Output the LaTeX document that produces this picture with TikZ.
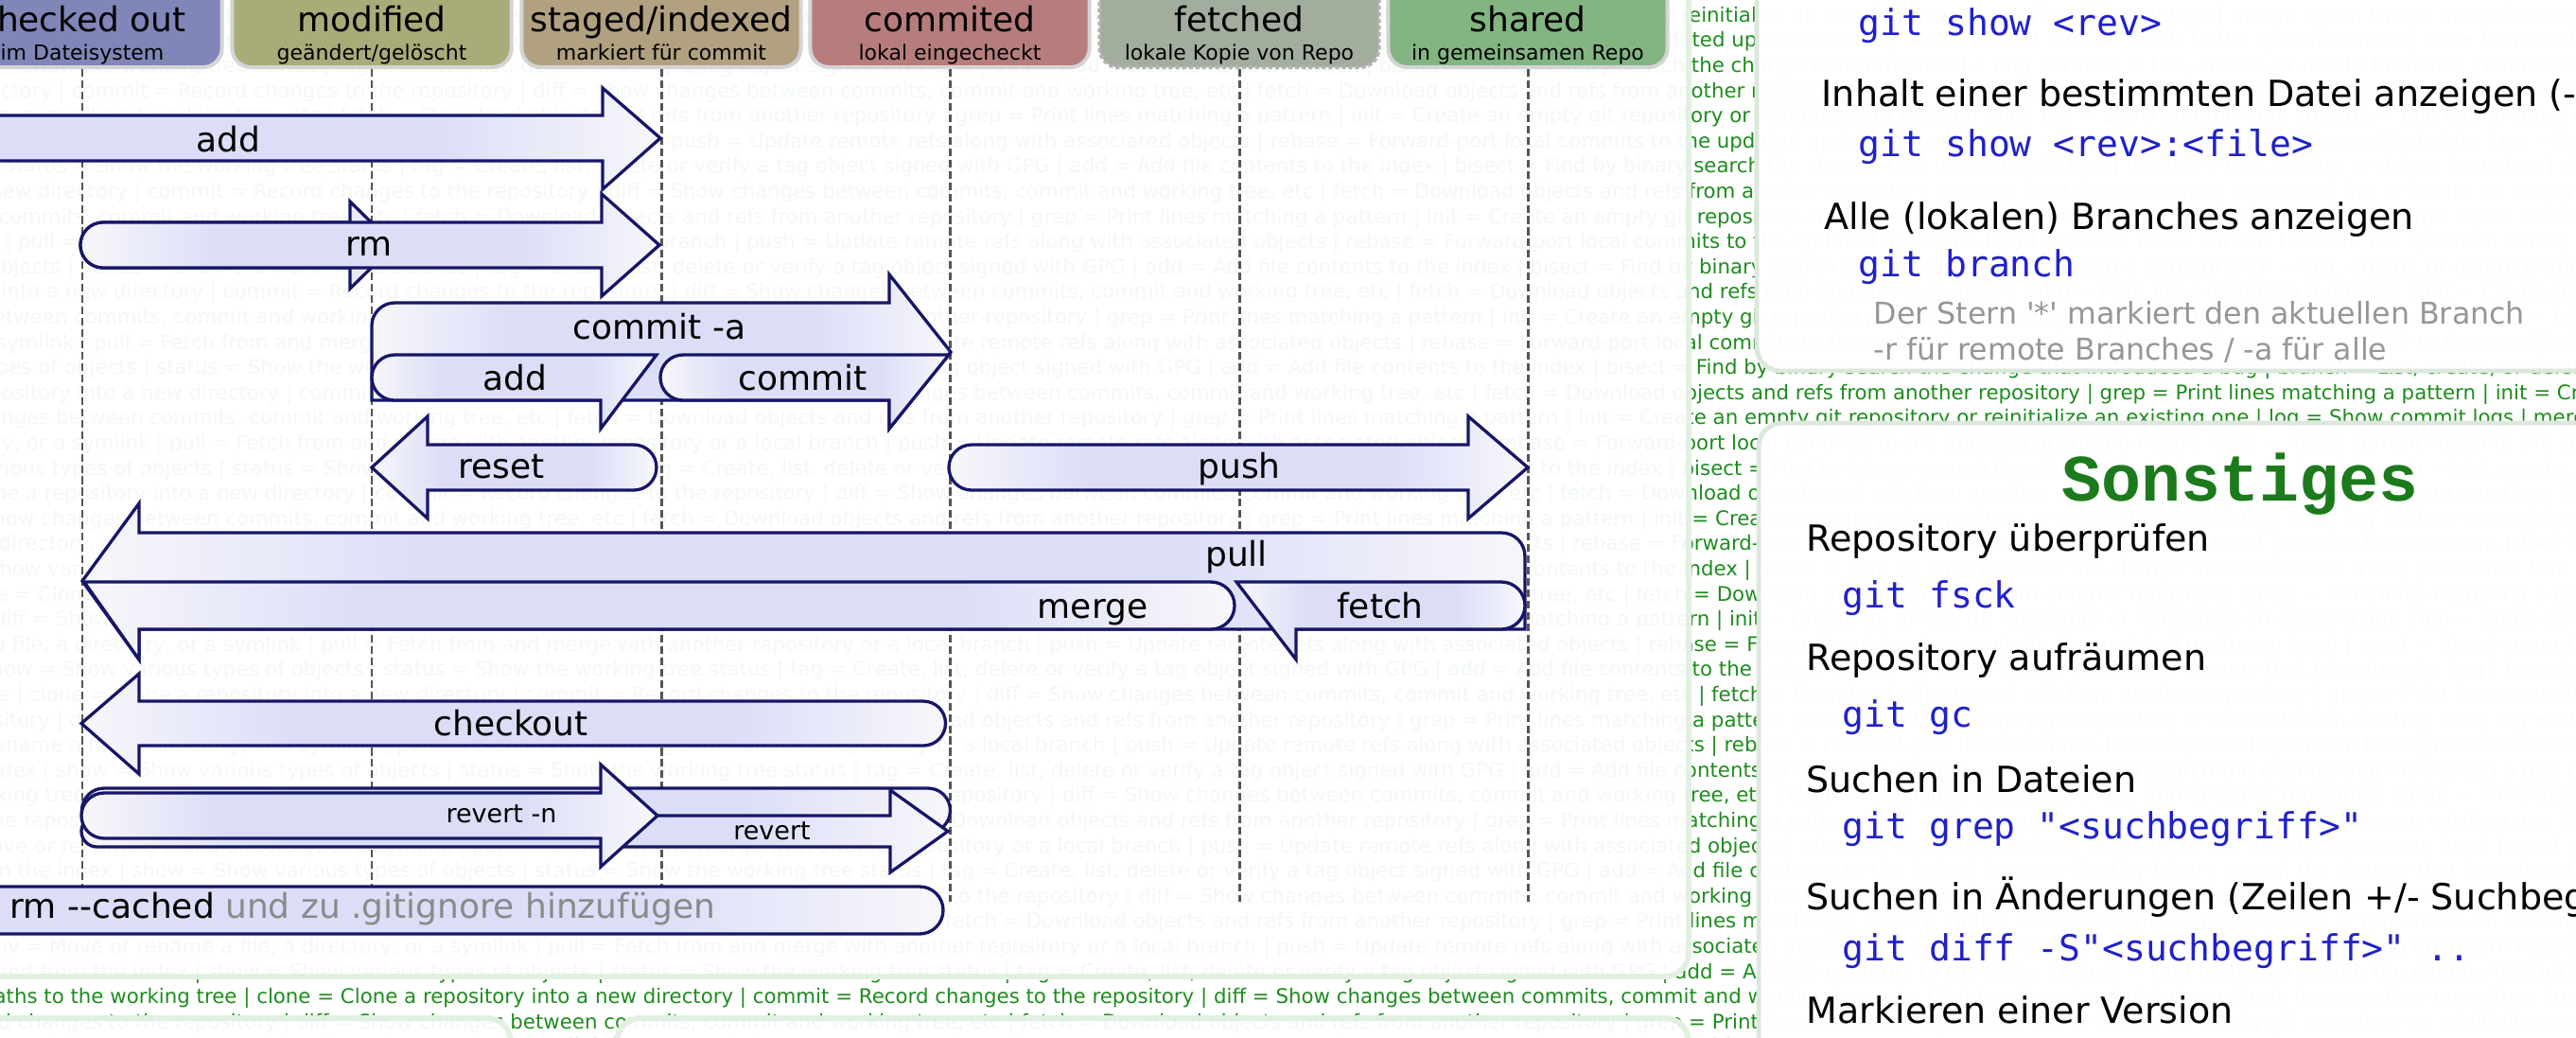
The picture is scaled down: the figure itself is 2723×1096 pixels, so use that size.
\documentclass[tikz,border=0pt]{standalone}
\usepackage{fontspec}
\newfontfamily\dv{DejaVu Sans}
\newfontfamily\dvm{DejaVu Sans Mono}
\newfontfamily\lmono{Liberation Mono}
\definecolor{navy}{RGB}{22,22,104}
\definecolor{arrL}{RGB}{220,222,248}
\definecolor{arrW}{RGB}{247,247,250}
\definecolor{bggreen}{RGB}{30,140,30}
\definecolor{codeblue}{RGB}{32,32,204}
\definecolor{sonst}{RGB}{28,122,28}
\definecolor{grayt}{RGB}{150,150,150}
\definecolor{graym}{RGB}{138,138,138}
\definecolor{ovb}{RGB}{226,240,226}
\definecolor{pnb}{RGB}{220,232,220}
\definecolor{hdrb}{RGB}{212,212,212}
\definecolor{vl}{RGB}{85,85,85}
\definecolor{cCheck}{RGB}{129,134,185}
\definecolor{cMod}{RGB}{169,172,121}
\definecolor{cStag}{RGB}{177,161,128}
\definecolor{cComm}{RGB}{183,125,125}
\definecolor{cFetch}{RGB}{162,173,158}
\definecolor{cShar}{RGB}{131,181,131}
\pgfdeclarehorizontalshading{arrsh}{100bp}{color(0bp)=(arrW); color(25bp)=(arrW); color(37bp)=(arrL); color(63bp)=(arrL); color(75bp)=(arrW); color(100bp)=(arrW)}
\newcommand\mycapL[3]{.. controls ({#1-0.5523*#3},{#2+#3}) and ({#1-#3},{#2+0.5523*#3}) .. ({#1-#3},{#2}) .. controls ({#1-#3},{#2-0.5523*#3}) and ({#1-0.5523*#3},{#2-#3}) .. ({#1},{#2-#3})}
\newcommand\mycapR[3]{.. controls ({#1+0.5523*#3},{#2-#3}) and ({#1+#3},{#2-0.5523*#3}) .. ({#1+#3},{#2}) .. controls ({#1+#3},{#2+0.5523*#3}) and ({#1+0.5523*#3},{#2+#3}) .. ({#1},{#2+#3})}
\newcommand\fsz[1]{\fontsize{#1}{#1}\selectfont}
\newcommand\bgt{add = Add file contents to the index | bisect = Find by binary search the change that introduced a bug | branch = List, create, or delete branches | checkout = Checkout a branch or paths to the working tree | clone = Clone a repository into a new directory | commit = Record changes to the repository | diff = Show changes between commits, commit and working tree, etc | fetch = Download objects and refs from another repository | grep = Print lines matching a pattern | init = Create an empty git repository or reinitialize an existing one | log = Show commit logs | merge = Join two or more development histories together | mv = Move or rename a file, a directory, or a symlink | pull = Fetch from and merge with another repository or a local branch | push = Update remote refs along with associated objects | rebase = Forward-port local commits to the updated upstream head | reset = Reset current HEAD to the specified state | rm = Remove files from the working tree and from the index | show = Show various types of objects | status = Show the working tree status | tag = Create, list, delete or verify a tag object signed with GPG | }
\tikzset{
 arr/.style={draw=navy, line width=0.94pt, shade, shading=arrsh, line join=miter},
 lbl/.style={inner sep=0, font=\dv\fsz{10.24}, text=black, anchor=base},
 slbl/.style={inner sep=0, font=\dv\fsz{7.68}, text=black, anchor=base},
 hdr/.style={draw=hdrb, line width=1.14pt, rounded corners=0.2cm, minimum width=2.95cm, minimum height=0.91cm, inner sep=0},
 htitle/.style={inner sep=0, font=\dv\fsz{10.24}, text=black, anchor=base},
 hsub/.style={inner sep=0, font=\dv\fsz{6.26}, text=black, anchor=base},
 vline/.style={draw=vl, line width=0.85pt, dash pattern=on 2.3pt off 1.1pt},
 ptxt/.style={inner sep=0, font=\dv\fsz{10.81}, text=black, anchor=base west},
 pcode/.style={inner sep=0, font=\dvm\fsz{10.81}, text=codeblue, anchor=base west},
 pnote/.style={inner sep=0, font=\dv\fsz{9.0}, text=grayt, anchor=base west},
 bgline/.style={inner sep=0, anchor=base west, text=bggreen, font=\dv\fsz{6.06}},
 overlay box/.style={fill=white, fill opacity=0.95, draw=ovb, line width=1.7pt, rounded corners=0.25cm},
 panel box/.style={fill=white, fill opacity=0.985, draw=pnb, line width=1.4pt, rounded corners=0.25cm}
}
\begin{document}
\begin{tikzpicture}[x=0.01cm, y=-0.01cm]
\useasboundingbox (0,0) rectangle (2723,1096);
\fill[white] (0,0) rectangle (2723,1096);
\begin{scope}
\clip (0,0) rectangle (2723,1096);
% background watermark text, one line at a time
\foreach \k in {0,...,42} {
  \node[bgline] (bg\k) at ({-10*mod(\k*373,1500)}, {-3.4+26.6*\k}) {\bgt\bgt};
}
% pale overlays
\path[overlay box] (-50,-50) rectangle (1785,1032);
\path[overlay box] (-50,1076) rectangle (540,1200);
\path[overlay box] (652,1076) rectangle (1785,1200);
% right panels
\path[panel box] (1857,-50) rectangle (2800,392);
\path[panel box] (1859,447) rectangle (2800,1200);
% panel 1 text
\node[pcode] (p1a) at (1964,37) {git show <rev>};
\node[ptxt] (p1b) at (1925,112) {Inhalt einer bestimmten Datei anzeigen (-};
\node[pcode] (p1c) at (1964,165) {git show <rev>:<file>};
\node[ptxt] (p1d) at (1928,242) {Alle (lokalen) Branches anzeigen};
\node[pcode] (p1e) at (1964,292) {git branch};
\node[pnote] (p1f) at (1980,342) {Der Stern '*' markiert den aktuellen Branch};
\node[pnote] (p1g) at (1980,380) {-r für remote Branches / -a für alle};
% panel 2 text
\node[inner sep=0, font=\lmono\bfseries\fsz{19.9}, text=sonst, anchor=base] (son) at (2368,529) {Sonstiges};
\node[ptxt] (p2a) at (1909,582) {Repository überprüfen};
\node[pcode] (p2b) at (1947,642) {git fsck};
\node[ptxt] (p2c) at (1909,708) {Repository aufräumen};
\node[pcode] (p2d) at (1947,768) {git gc};
\node[ptxt] (p2e) at (1909,837) {Suchen in Dateien};
\node[pcode] (p2f) at (1947,886) {git grep "<suchbegriff>"};
\node[ptxt] (p2g) at (1909,961) {Suchen in Änderungen (Zeilen +/- Suchbegriff)};
\node[pcode] (p2h) at (1947,1015) {git diff -S"<suchbegriff>" ..};
\node[ptxt] (p2i) at (1909,1081) {Markieren einer Version};
% header boxes
\node[hdr, fill=cCheck] (hco) at (87,25.5) {};
\node[hdr, fill=cMod] (hmo) at (393,25.5) {};
\node[hdr, fill=cStag] (hst) at (699,25.5) {};
\node[hdr, fill=cComm] (hcm) at (1004,25.5) {};
\node[hdr, fill=cFetch, draw=gray!60, dash pattern=on 1.2pt off 0.8pt] (hfe) at (1310,25.5) {};
\node[hdr, fill=cShar] (hsh) at (1615,25.5) {};
\node[htitle] (tco) at (87,33) {checked out};
\node[hsub] (sco) at (87,63) {im Dateisystem};
\node[htitle] (tmo) at (393,33) {modified};
\node[hsub] (smo) at (393,63) {geändert/gelöscht};
\node[htitle] (tst) at (699,33) {staged/indexed};
\node[hsub] (sst) at (699,63) {markiert für commit};
\node[htitle] (tcm) at (1004,33) {commited};
\node[hsub] (scm) at (1004,63) {lokal eingecheckt};
\node[htitle] (tfe) at (1310,33) {fetched};
\node[hsub] (sfe) at (1310,63) {lokale Kopie von Repo};
\node[htitle] (tsh) at (1615,33) {shared};
\node[hsub] (ssh) at (1615,63) {in gemeinsamen Repo};
% dashed lines
\coordinate (eco) at (87,953);
\coordinate (emo) at (393,953);
\coordinate (est) at (699,953);
\coordinate (ecm) at (1004,953);
\coordinate (efe) at (1310,953);
\coordinate (esh) at (1615,953);
\draw[vline] (hco.south) -- (eco);
\draw[vline] (hmo.south) -- (emo);
\draw[vline] (hst.south) -- (est);
\draw[vline] (hcm.south) -- (ecm);
\draw[vline] (hfe.south) -- (efe);
\draw[vline] (hsh.south) -- (esh);
% row 1: add
\path[arr] (-300,122) -- (637,122) -- (637,93) -- (698,146) -- (637,200) -- (637,170) -- (-300,170) -- cycle;
\node[lbl] (ladd) at (241,160) {add};
% row 2: rm
\path[arr] (109,235) -- (370,235) -- (370,213) -- (417,259) -- (370,305) -- (370,283) -- (109,283) \mycapL{109}{259}{24} -- cycle;
\path[arr] (109,235) -- (636,235) -- (636,205) -- (697,259) -- (636,313) -- (636,283) -- (109,283) \mycapL{109}{259}{24} -- cycle;
\node[lbl] (lrm) at (390,270) {rm};
% row 3: commit -a, add, commit
\path[arr] (393,423) -- (393,344) .. controls (393,331) and (404,320) .. (417,320) -- (940,320) -- (940,290) -- (1005,372) -- (940,453) -- (940,423) -- cycle;
\node[lbl] (lcma) at (697,358) {commit -a};
\path[arr] (417,375) -- (694,375) -- (635,453) -- (635,423) -- (417,423) \mycapL{417}{399}{24} -- cycle;
\node[lbl] (ladd2) at (544,412) {add};
\path[arr] (722,375) -- (1003,375) -- (940,453) -- (940,423) -- (722,423) \mycapL{722}{399}{24} -- cycle;
\node[lbl] (lcm) at (849,412) {commit};
% row 4: reset, push
\path[arr] (670,470) \mycapR{670}{494}{24} -- (452,518) -- (452,548) -- (393,494) -- (452,440) -- (452,470) -- cycle;
\node[lbl] (lreset) at (530,505) {reset};
\path[arr] (1027,470) -- (1552,470) -- (1552,440) -- (1615,494) -- (1552,548) -- (1552,518) -- (1027,518) \mycapL{1027}{494}{24} -- cycle;
\node[lbl] (lpush) at (1310,505) {push};
% row 5: pull, merge, fetch
\path[arr] (147,563) -- (1587,563) .. controls (1601,563) and (1612,574) .. (1612,588) -- (1612,665) -- (147,665) -- (147,697) -- (87,614) -- (147,532) -- cycle;
\node[lbl] (lpull) at (1307,598) {pull};
\path[arr] (89,615) -- (1280,615) \mycapR{1280}{640}{25} -- (147,665) -- (147,697) -- cycle;
\node[lbl] (lmerge) at (1155,653) {merge};
\path[arr] (1307,615) -- (1587,615) \mycapR{1587}{640}{25} -- (1370,665) -- (1370,697) -- cycle;
\node[lbl] (lfetch) at (1459,653) {fetch};
% row 6: checkout
\path[arr] (976,741) \mycapR{976}{764.5}{23.5} -- (147,788) -- (147,818) -- (86,764.5) -- (147,712) -- (147,741) -- cycle;
\node[lbl] (lco) at (540,777) {checkout};
% row 7: revert, revert -n
\path[arr] (110,833) -- (981,833) \mycapR{981}{856.5}{23.5} -- (110,880) \mycapL{110}{856.5}{23.5} -- cycle;
\path[arr] (102.5,862) -- (941,862) -- (941,835) -- (1002,878.5) -- (941,922) -- (941,895) -- (102.5,895) \mycapL{102.5}{878.5}{16.5} -- cycle;
\node[slbl] (lrev) at (816,887) {revert};
\path[arr] (110,838) -- (635,838) -- (635,808) -- (695,862) -- (635,916) -- (635,886) -- (110,886) \mycapL{110}{862}{24} -- cycle;
\node[slbl] (lrevn) at (530,869) {revert -n};
% row 8: rm --cached
\path[arr] (-300,937) -- (972,937) \mycapR{972}{962}{25} -- (-300,987) -- cycle;
\node[lbl, anchor=base west] (lrmc) at (10,970) {rm --cached {\color{graym}und zu .gitignore hinzufügen}};
\end{scope}
\end{tikzpicture}
\end{document}
